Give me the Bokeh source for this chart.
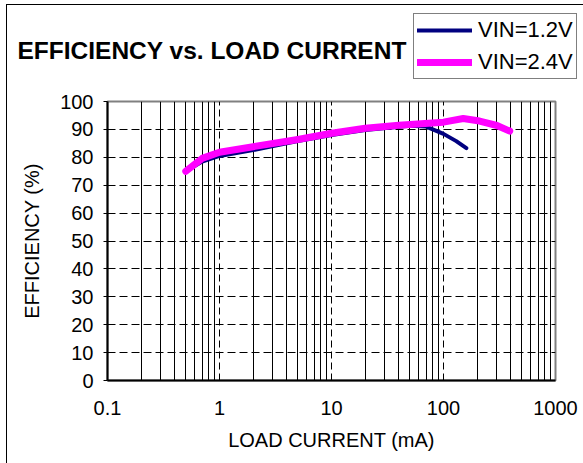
from bokeh.plotting import figure
from bokeh.layouts import column
from bokeh.models import (Range1d, FixedTicker, NumeralTickFormatter, Legend,
                          LegendItem, Label)
from bokeh.embed import file_html
from bokeh.resources import INLINE

# ---- data ----
x_12 = [0.5, 0.7, 1, 2, 5, 10, 20, 50, 70, 100, 130, 160]
y_12 = [75.0, 78.5, 80.5, 82.6, 85.8, 88.0, 89.8, 91.3, 91.0, 88.4, 85.8, 83.3]
x_24 = [0.5, 0.7, 1, 2, 5, 10, 20, 40, 100, 150, 210, 300, 390]
y_24 = [75.0, 79.6, 81.8, 83.8, 86.4, 88.6, 90.4, 91.5, 92.6, 93.9, 93.0, 91.4, 89.4]
series_names = ["VIN=1.2V", "VIN=2.4V"]
series_colors = ["#000080", "#FF00FF"]
series_widths = [4, 7]
chart_title = "EFFICIENCY vs. LOAD CURRENT"
x_ticks = [0.1, 1, 10, 100, 1000]
x_minor = [m * d for d in (0.1, 1, 10, 100) for m in range(2, 10)]
y_ticks = list(range(0, 101, 10))

FONT = "Liberation Sans"
W = 576
TOP_H = 80
MAIN_H = 378

# ---------- header strip: title + legend ----------
top = figure(width=W, height=TOP_H, x_range=Range1d(0, W), y_range=Range1d(0, TOP_H),
             output_backend="svg", toolbar_location=None,
             min_border=0, min_border_left=0, min_border_right=0,
             min_border_top=0, min_border_bottom=0)
top.frame_align = False
top.axis.visible = False
top.grid.visible = False
top.outline_line_color = None
top.title.visible = False

# hidden copies of the series, only used to draw the legend swatches
leg_r = [top.line(x=xs, y=ys, line_color=c, line_width=w, line_cap="round", visible=False)
         for xs, ys, c, w in zip([x_12, x_24], [y_12, y_24], series_colors, series_widths)]
legend = Legend(items=[LegendItem(label=n, renderers=[r]) for n, r in zip(series_names, leg_r)],
                location=(406, 6), orientation="vertical",
                border_line_color="black", border_line_width=1,
                background_fill_color="white", background_fill_alpha=1,
                inactive_fill_alpha=0,
                label_text_font=FONT, label_text_font_size="22px",
                label_text_color="black",
                glyph_width=55, glyph_height=26, label_height=26,
                label_standoff=6, spacing=6, padding=3, margin=0)
top.add_layout(legend, "center")

top.add_layout(Label(x=10, y=TOP_H - 45, text=chart_title, text_font=FONT,
                     text_font_size="24.5px", text_font_style="bold",
                     text_color="black", text_baseline="middle", text_align="left"))

# ---------- main chart ----------
p = figure(width=W, height=MAIN_H, x_axis_type="log",
           x_range=Range1d(0.1, 1000), y_range=Range1d(0, 100),
           output_backend="svg", toolbar_location=None,
           min_border_left=100, min_border_right=28,
           min_border_top=16, min_border_bottom=83)
p.frame_align = False
p.title.visible = False
p.outline_line_color = "#808080"
p.outline_line_width = 2

p.xgrid.ticker = FixedTicker(ticks=x_ticks, minor_ticks=x_minor)
p.xgrid.grid_line_color = "black"
p.xgrid.grid_line_dash = "7 4"
p.xgrid.grid_line_width = 1
p.xgrid.minor_grid_line_color = "black"
p.xgrid.minor_grid_line_width = 1
p.ygrid.ticker = FixedTicker(ticks=y_ticks)
p.ygrid.grid_line_color = "black"
p.ygrid.grid_line_dash = "8 4"
p.ygrid.grid_line_width = 1

xa = p.xaxis[0]
xa.ticker = FixedTicker(ticks=x_ticks, minor_ticks=x_minor)
xa.formatter = NumeralTickFormatter(format="0[.][0]")
xa.major_tick_out = 0
xa.major_tick_in = 0
xa.minor_tick_out = 0
xa.minor_tick_in = 0
xa.axis_line_color = "black"
xa.axis_line_width = 2
xa.major_label_text_font = FONT
xa.major_label_text_font_size = "20px"
xa.major_label_text_color = "black"
xa.major_label_standoff = 20
xa.axis_label = "LOAD CURRENT (mA)"
xa.axis_label_text_font = FONT
xa.axis_label_text_font_size = "20px"
xa.axis_label_text_font_style = "normal"
xa.axis_label_text_color = "black"
xa.axis_label_standoff = 11

ya = p.yaxis[0]
ya.ticker = FixedTicker(ticks=y_ticks)
ya.major_tick_out = 4
ya.major_tick_in = 0
ya.minor_tick_out = 0
ya.minor_tick_in = 0
ya.axis_line_color = "black"
ya.axis_line_width = 2
ya.major_tick_line_color = "black"
ya.major_label_text_font = FONT
ya.major_label_text_font_size = "20px"
ya.major_label_text_color = "black"
ya.major_label_standoff = 10
ya.axis_label = "EFFICIENCY (%)"
ya.axis_label_text_font = FONT
ya.axis_label_text_font_size = "20px"
ya.axis_label_text_font_style = "normal"
ya.axis_label_text_color = "black"
ya.axis_label_standoff = 14

p.line(x_12, y_12, line_color=series_colors[0], line_width=series_widths[0],
       line_cap="round", line_join="round")
p.line(x_24, y_24, line_color=series_colors[1], line_width=series_widths[1],
       line_cap="round", line_join="round")

layout = column(top, p, spacing=0,
                styles={"border-left": "1px solid black", "border-top": "1px solid black",
                        "margin-left": "6px", "margin-top": "4px"})

open("out.html", "w").write(file_html(layout, INLINE))
